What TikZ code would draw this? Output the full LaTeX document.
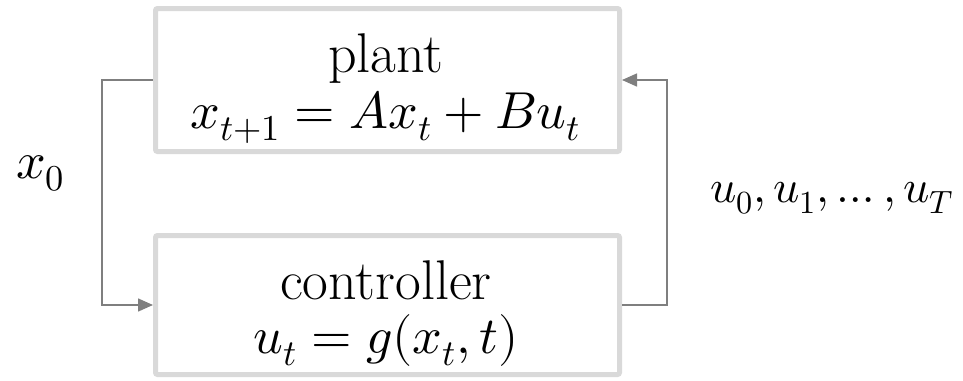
\documentclass[tikz,border=0pt]{standalone}
\usepackage{unicode-math}
\setmathfont{Latin Modern Math}
\usetikzlibrary{arrows.meta}
\definecolor{boxgray}{HTML}{D9D9D9}
\definecolor{linegray}{HTML}{7F7F7F}
\tikzset{
  blockbox/.style={draw=boxgray, line width=5pt, rounded corners=2pt, minimum width=464pt, inner sep=0pt, fill=white},
  conn/.style={draw=linegray, line width=1.5pt, -{Triangle[length=15pt,width=13pt]}},
  txt/.style={anchor=base, inner sep=0pt, font=\fontsize{52}{56}\selectfont},
  wordtxt/.style={anchor=base, inner sep=0pt, font=\fontsize{56}{60}\selectfont},
  sidetxt/.style={anchor=base west, inner sep=0pt, font=\fontsize{46}{50}\selectfont}
}
\begin{document}
\begin{tikzpicture}[x=1pt,y=-1pt]
\useasboundingbox (0,0) rectangle (963,380);
\node[blockbox, minimum height=143pt] (plant) at (387.5,80) {};
\node[blockbox, minimum height=139pt] (ctrl) at (387.5,305) {};
\node[wordtxt] (plantname) at (386,72) {plant};
\node[txt] (planteq) at (385,128) {$x_{t+1} = Ax_t + Bu_t$};
\node[wordtxt] (ctrlname) at (386,299) {controller};
\node[txt] (ctrleq) at (386,353) {$u_t = g(x_t, t)$};
\node[txt, anchor=base west] (xlab) at (16,178) {$x_0$};
\node[sidetxt] (ulab) at (710,202) {$u_0, u_1, \dots, u_T$};
\coordinate (lc1) at (102,80);
\coordinate (lc2) at (102,305);
\coordinate (rc1) at (667,305);
\coordinate (rc2) at (667,80);
\draw[conn] (plant.west) -- (lc1) -- (lc2) -- (ctrl.west);
\draw[conn] (ctrl.east) -- (rc1) -- (rc2) -- (plant.east);
\end{tikzpicture}
\end{document}
